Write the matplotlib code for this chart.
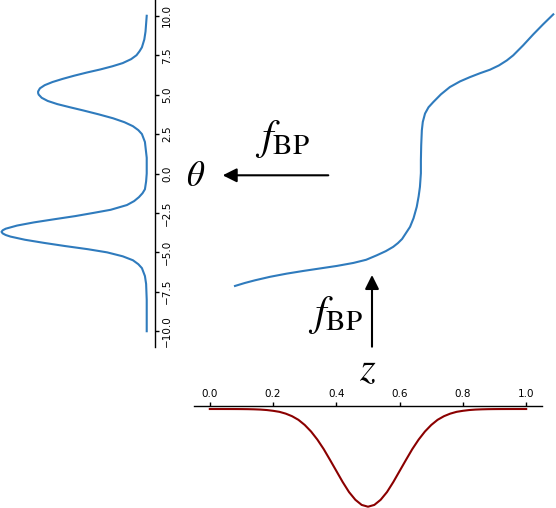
import matplotlib
matplotlib.use('Agg')
import matplotlib.pyplot as plt
from matplotlib.patches import FancyArrowPatch

plt.rcParams['mathtext.fontset'] = 'stix'

# density of theta
theta = [-10, -8, -7, -6.5, -6, -5.75, -5.5, -5.25, -5, -4.8, -4.6, -4.4,
         -4.2, -4.0, -3.9, -3.8, -3.7, -3.6, -3.5, -3.3, -3.1, -2.9, -2.7,
         -2.5, -2.3, -2.0, -1.75, -1.5, -1.25, -1.0, -0.5, 0, 1, 2.0, 2.5,
         2.75, 3.0, 3.25, 3.5, 3.75, 4.0, 4.2, 4.4, 4.6, 4.8, 5.0, 5.1, 5.2,
         5.4, 5.6, 5.8, 6.0, 6.2, 6.4, 6.6, 6.8, 7.0, 7.25, 7.5, 7.75, 8.0,
         8.5, 9.0, 9.5, 10]
p_theta = [0.0, 0.0, 0.001, 0.003, 0.008, 0.014, 0.023, 0.040, 0.066, 0.098,
           0.136, 0.171, 0.203, 0.227, 0.235, 0.240, 0.242, 0.240, 0.235,
           0.216, 0.188, 0.154, 0.119, 0.089, 0.060, 0.033, 0.021, 0.013,
           0.007, 0.003, 0.001, 0.0, 0.0, 0.003, 0.008, 0.014, 0.023, 0.037,
           0.056, 0.080, 0.106, 0.128, 0.149, 0.165, 0.175, 0.180, 0.181,
           0.181, 0.178, 0.170, 0.157, 0.140, 0.121, 0.100, 0.077, 0.057,
           0.040, 0.026, 0.017, 0.012, 0.008, 0.004, 0.002, 0.001, 0.0]

# density of z (bottom panel)
z = [0.00, 0.02, 0.04, 0.06, 0.08, 0.10, 0.12, 0.14, 0.16, 0.18, 0.20, 0.22,
     0.24, 0.26, 0.28, 0.30, 0.32, 0.34, 0.36, 0.38, 0.40, 0.42, 0.44, 0.46,
     0.48, 0.50, 0.52, 0.54, 0.56, 0.58, 0.60, 0.62, 0.64, 0.66, 0.68, 0.70,
     0.72, 0.74, 0.76, 0.78, 0.80, 0.82, 0.84, 0.86, 0.88, 0.90, 0.92, 0.94,
     0.96, 0.98, 1.00]
p_z = [0.0, 0.0002, 0.0004, 0.0008, 0.0015, 0.003, 0.006, 0.012, 0.022, 0.04,
       0.07, 0.11, 0.18, 0.28, 0.42, 0.62, 0.875, 1.19, 1.56, 1.98, 2.41,
       2.84, 3.23, 3.53, 3.73, 3.80, 3.73, 3.53, 3.23, 2.84, 2.41, 1.98,
       1.56, 1.19, 0.875, 0.62, 0.42, 0.28, 0.18, 0.11, 0.07, 0.04, 0.022,
       0.012, 0.006, 0.003, 0.0015, 0.0008, 0.0004, 0.0002, 0.0]

# transport map z -> theta (top right)
map_z = [0.000, 0.031, 0.063, 0.110, 0.162, 0.214, 0.267, 0.320, 0.372,
         0.412, 0.445, 0.474, 0.497, 0.512, 0.525, 0.537, 0.550, 0.561,
         0.571, 0.577, 0.581, 0.584, 0.584, 0.585, 0.587, 0.590, 0.597,
         0.608, 0.623, 0.647, 0.675, 0.707, 0.738, 0.770, 0.801, 0.829,
         0.854, 0.874, 0.905, 0.937, 0.968, 1.000]
map_theta = [-7.13, -6.94, -6.77, -6.55, -6.35, -6.18, -6.02, -5.86, -5.67,
             -5.47, -5.19, -4.92, -4.65, -4.41, -4.15, -3.78, -3.38, -2.83,
             -2.11, -1.44, -0.85, 0.02, 0.84, 1.79, 2.74, 3.27, 3.80, 4.20,
             4.53, 5.02, 5.48, 5.84, 6.11, 6.36, 6.58, 6.85, 7.17, 7.49, 8.12,
             8.82, 9.46, 10.09]

theta_ticks = [-10, -7.5, -5, -2.5, 0, 2.5, 5, 7.5, 10]
z_ticks = [0.0, 0.2, 0.4, 0.6, 0.8, 1.0]

W, H = 556, 508
fig = plt.figure(figsize=(W / 100, H / 100), dpi=100)

def px(x0, y0, x1, y1):
    # pixel box (top-left origin) -> figure fraction rect
    return [x0 / W, 1 - y1 / H, (x1 - x0) / W, (y1 - y0) / H]

blue = '#2f7bbd'

# left: density of theta, sideways
ax_l = fig.add_axes(px(0, 0, 155, 347))
ax_l.plot(p_theta, theta, color=blue, lw=1.5)
ax_l.set_xlim(0.2445, -0.0138)
ax_l.set_ylim(-11, 11)
for s in ('left', 'top', 'bottom'):
    ax_l.spines[s].set_visible(False)
ax_l.spines['right'].set_linewidth(1.0)
ax_l.yaxis.tick_right()
ax_l.set_xticks([])
ax_l.set_yticks(theta_ticks)
ax_l.set_yticklabels([f'{t:.1f}'.replace('-', '\u2212') for t in theta_ticks],
                     rotation=90, va='center')
ax_l.tick_params(axis='y', labelsize=7.5, length=3, width=1.0, pad=2)

# bottom: density of z, upside down
ax_b = fig.add_axes(px(194, 406, 542, 508))
ax_b.plot(z, [-v for v in p_z], color='darkred', lw=1.5)
ax_b.set_xlim(-0.05, 1.05)
ax_b.set_ylim(-3.85, 0.117)
for s in ('left', 'right', 'bottom'):
    ax_b.spines[s].set_visible(False)
ax_b.spines['top'].set_linewidth(1.0)
ax_b.xaxis.tick_top()
ax_b.set_yticks([])
ax_b.set_xticks(z_ticks)
ax_b.set_xticklabels([f'{t:.1f}' for t in z_ticks])
ax_b.tick_params(axis='x', labelsize=7.5, length=3, width=1.0, pad=2)

# top right: the map
ax_m = fig.add_axes(px(235, 0, 553.3, 347))
ax_m.plot(map_z, map_theta, color=blue, lw=1.5, clip_on=False)
ax_m.set_xlim(0, 1)
ax_m.set_ylim(-11, 11)
ax_m.axis('off')

def ftext(x, y, s, **kw):
    fig.text(x / W, 1 - y / H, s, ha='center', va='center', **kw)

ftext(196, 176, r'$\theta$', fontsize=25)
ftext(282, 139, r'$f_{\mathrm{BP}}$', fontsize=30)
ftext(335, 315, r'$f_{\mathrm{BP}}$', fontsize=30)
ftext(368, 369, r'$z$', fontsize=29)

def farrow(x0, y0, x1, y1):
    fig.add_artist(FancyArrowPatch((x0 / W, 1 - y0 / H), (x1 / W, 1 - y1 / H),
                                   transform=fig.transFigure, arrowstyle='-|>',
                                   mutation_scale=21, lw=1.5, color='k',
                                   shrinkA=0, shrinkB=0))

farrow(328.3, 175.3, 222.7, 175.3)
farrow(372, 346.7, 372, 275)

fig.savefig('out.png', dpi=100)
